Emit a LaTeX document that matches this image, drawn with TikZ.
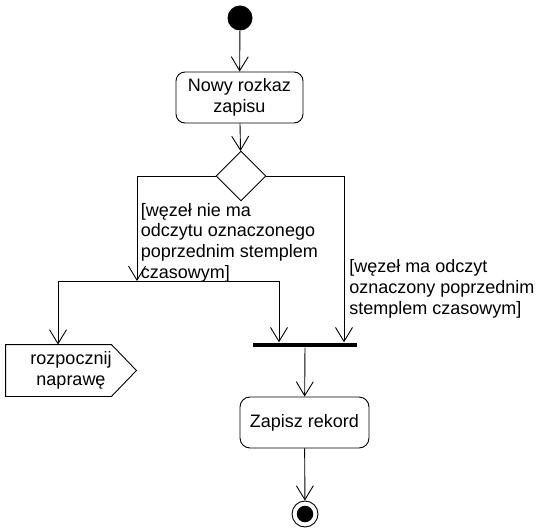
\documentclass[tikz,border=0pt]{standalone}
\usepackage{fontspec}
\setmainfont{Liberation Sans}
\usetikzlibrary{shapes.geometric,arrows.meta}
\begin{document}
\begin{tikzpicture}[x=1pt,y=-1pt,
  line width=0.9pt,
  every node/.style={font=\fontsize{18}{20.7}\selectfont},
  flow/.style={-{Straight Barb[length=14pt,width=17pt]}},
  act/.style={draw,rounded corners=9pt,inner sep=0pt,align=center},
  lbl/.style={inner sep=0pt,align=left,anchor=north west}]
\useasboundingbox[fill=white] (0,0) rectangle (543,532);
% nodes
\node[circle,fill=black,minimum size=25pt,inner sep=0pt] (start) at (240,18) {};
\node[act,minimum width=127pt,minimum height=51pt] (nowy) at (239.5,97.5) {Nowy rozkaz\\zapisu};
\node[diamond,draw,minimum width=50pt,minimum height=50pt,inner sep=0pt,aspect=1] (dec) at (241,176) {};
\node[fill=black,minimum width=104pt,minimum height=4.5pt,inner sep=0pt] (bar) at (305,345) {};
\node[act,minimum width=129pt,minimum height=51pt,rounded corners=10pt] (zap) at (304.5,422.5) {Zapisz rekord};
\node[circle,draw,minimum size=26pt,inner sep=0pt] (end) at (305,514) {};
\node[circle,fill=black,minimum size=16.5pt,inner sep=0pt] at (end) {};
\node[minimum width=130pt,minimum height=51pt,inner sep=0pt,align=center] (rozp) at (71,370.5) {rozpocznij\\naprawę};
\draw (rozp.north west) -- ([xshift=-25pt]rozp.north east) -- (rozp.east) -- ([xshift=-25pt]rozp.south east) -- (rozp.south west) -- cycle;
% split line
\coordinate (sl) at (58,281);
\coordinate (sr) at (279,281);
\coordinate (sm) at (137,281);
\draw (sl) -- (sr);
% labels
\node[lbl] (g1) at (140.5,202.6) {[węzeł nie ma\\odczytu oznaczonego\\poprzednim stemplem\\czasowym]};
\node[lbl] (g2) at (348.8,259.2) {[węzeł ma odczyt\\oznaczony poprzednim\\stemplem czasowym]};
% connectors
\draw[flow] (start) -- (nowy);
\draw[flow] (nowy) -- (dec);
\draw[flow] (dec.west) -| (sm);
\draw[flow] (dec.east) -| ([xshift=39pt]bar.north);
\draw[flow] (sl) -- (sl |- rozp.north);
\draw[flow] (sr) -- (sr |- bar.north);
\draw[flow] (bar) -- (zap);
\draw[flow] (zap) -- (end);
\end{tikzpicture}
\end{document}
